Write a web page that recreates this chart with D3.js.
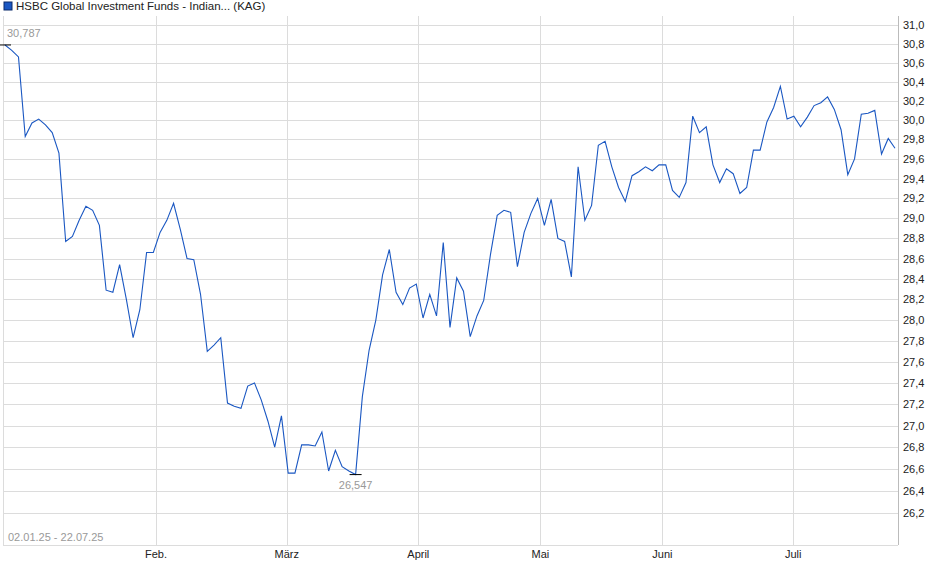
<!DOCTYPE html>
<html><head><meta charset="utf-8">
<script src="https://cdn.jsdelivr.net/npm/d3@7"></script>
<style>body{margin:0;background:#fff;font-family:Arial,"Liberation Sans",sans-serif}</style>
</head><body><svg id="c" width="940" height="579"></svg>
<script>
const values = [30.787,30.73,30.66,29.83,29.97,30.01,29.95,29.87,29.66,28.77,
28.82,28.98,29.12,29.08,28.93,28.29,28.27,28.54,28.20,27.83,
28.10,28.66,28.66,28.86,28.98,29.15,28.89,28.60,28.59,28.25,
27.70,27.76,27.83,27.21,27.18,27.16,27.37,27.40,27.24,27.04,
26.80,27.09,26.56,26.56,26.82,26.82,26.81,26.94,26.58,26.77,
26.62,26.58,26.547,27.27,27.71,28.00,28.44,28.69,28.27,28.15,
28.31,28.35,28.02,28.25,28.04,28.76,27.93,28.41,28.28,27.84,
28.04,28.19,28.64,29.03,29.08,29.06,28.52,28.86,29.05,29.20,
28.93,29.19,28.80,28.77,28.42,29.52,28.98,29.13,29.74,29.78,
29.52,29.31,29.17,29.43,29.47,29.52,29.48,29.54,29.54,29.28,
29.21,29.36,30.04,29.87,29.93,29.54,29.36,29.50,29.45,29.25,
29.31,29.69,29.69,29.98,30.13,30.35,30.01,30.04,29.93,30.03,
30.15,30.18,30.24,30.11,29.90,29.44,29.60,30.06,30.07,30.10,
29.65,29.81,29.71];
const monthLabels = ["Feb.","März","April","Mai","Juni","Juli"];
const monthIdx = [22.4,41.8,61.3,79.4,97.5,116.9];
const yTicks = [26.2,26.4,26.6,26.8,27.0,27.2,27.4,27.6,27.8,28.0,28.2,28.4,28.6,28.8,29.0,29.2,29.4,29.6,29.8,30.0,30.2,30.4,30.6,30.8,31.0];
const title = "HSBC Global Investment Funds - Indian... (KAG)";
const range = "02.01.25 - 22.07.25";

const svg = d3.select("#c");
const L=3,R=898,T=16,B=545;
const x = d3.scaleLinear().domain([0,values.length-1]).range([5,895]);
const y = d3.scaleLog().domain([25.91,31.096]).range([B,T]);
const g = svg.append("g");
g.selectAll(".hg").data(yTicks).join("line").attr("x1",L).attr("x2",R)
 .attr("y1",d=>Math.round(y(d))+0.5).attr("y2",d=>Math.round(y(d))+0.5).attr("stroke","#dcdcdc");
g.selectAll(".vg").data(monthIdx).join("line").attr("y1",T).attr("y2",B)
 .attr("x1",d=>Math.round(x(d))+0.5).attr("x2",d=>Math.round(x(d))+0.5).attr("stroke","#dcdcdc");
g.append("line").attr("x1",L+0.5).attr("x2",L+0.5).attr("y1",T).attr("y2",B).attr("stroke","#dcdcdc");
g.append("line").attr("x1",R+0.5).attr("x2",R+0.5).attr("y1",T).attr("y2",B).attr("stroke","#bbb");
g.append("line").attr("x1",L).attr("x2",R).attr("y1",B+0.5).attr("y2",B+0.5).attr("stroke","#dcdcdc");
svg.selectAll(".yl").data(yTicks).join("text").attr("x",903).attr("y",d=>y(d)+4)
 .attr("font-size",11).attr("fill","#222").text(d=>d.toFixed(1).replace(".",","));
svg.selectAll(".xl").data(monthIdx).join("text").attr("x",d=>x(d)).attr("y",558)
 .attr("text-anchor","middle").attr("font-size",11).attr("fill","#222").text((d,i)=>monthLabels[i]);
svg.append("path").datum(values).attr("fill","none").attr("stroke","#1a57c2").attr("stroke-width",1.1)
 .attr("d",d3.line().x((d,i)=>x(i)).y(d=>y(d)));
const iMax=d3.maxIndex(values), iMin=d3.minIndex(values);
[[iMax,-8],[iMin,14]].forEach(([i,dy])=>{
  svg.append("line").attr("x1",x(i)-6).attr("x2",x(i)+6).attr("y1",y(values[i])).attr("y2",y(values[i])).attr("stroke","#000");
  svg.append("text").attr("x",i===iMax?x(i)+2:x(i)).attr("y",y(values[i])+dy).attr("text-anchor",i===iMax?"start":"middle")
   .attr("font-size",11).attr("fill","#999").text(values[i].toFixed(3).replace(".",","));
});
svg.append("text").attr("x",8).attr("y",541).attr("font-size",11).attr("fill","#999").text(range);
svg.append("rect").attr("x",4).attr("y",2).attr("width",8).attr("height",8).attr("fill","#1a57c2").attr("stroke","#0a2a6a");
svg.append("text").attr("x",16).attr("y",10).attr("font-size",11.5).attr("fill","#222").text(title);
</script></body></html>
